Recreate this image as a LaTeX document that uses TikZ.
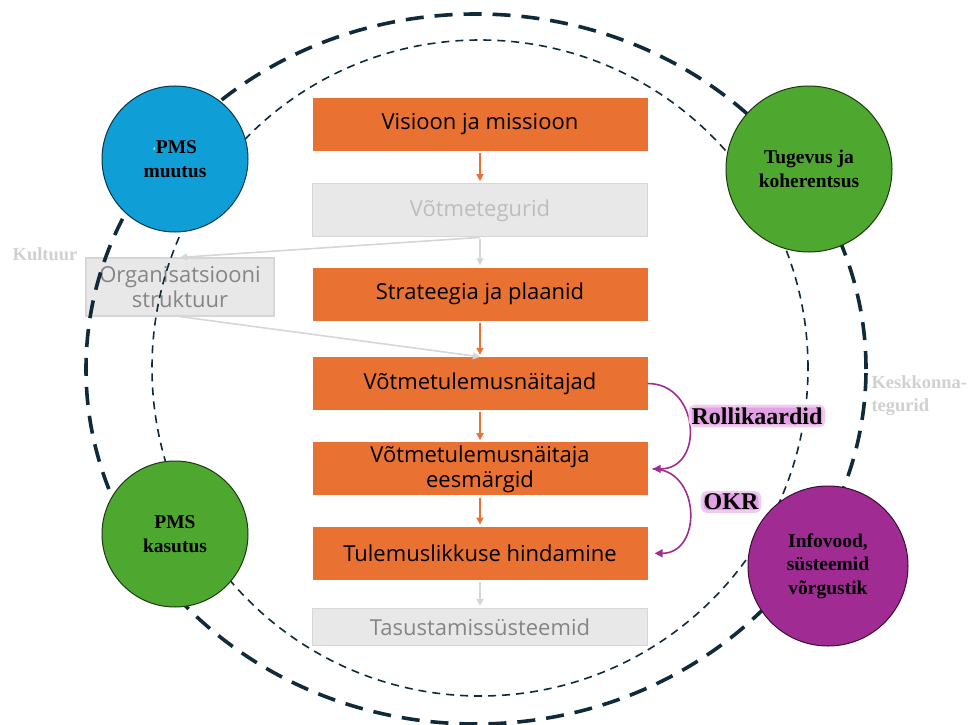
\documentclass[tikz,border=0pt]{standalone}
\usepackage{fontspec}
\setmainfont{Liberation Serif}
\newfontfamily\boxfont{Open Sans}
\usetikzlibrary{arrows.meta, positioning}

\definecolor{orangeB}{HTML}{E97132}
\definecolor{blueC}{HTML}{0F9ED5}
\definecolor{greenC}{HTML}{4EA72E}
\definecolor{purpleC}{HTML}{A02B93}
\definecolor{darkline}{HTML}{0E2A3B}
\definecolor{boxgray}{HTML}{E8E8E8}
\definecolor{boxline}{HTML}{D6D6D6}
\definecolor{textgray}{HTML}{858585}
\definecolor{textlight}{HTML}{BDBDBD}
\definecolor{labelgray}{HTML}{D0D0D0}
\definecolor{glowpink}{HTML}{E3A0E3}

\begin{document}
\begin{tikzpicture}[x=1pt, y=-1pt,
  box/.style={rectangle, fill=orangeB, minimum width=335pt, minimum height=53pt, inner sep=0pt, align=center, font=\boxfont\fontsize{22}{25}\selectfont},
  greybox/.style={box, fill=boxgray, draw=boxline, line width=1.2pt, text=textgray},
  ball/.style={circle, line width=1pt, inner sep=0pt, align=center, font=\bfseries\fontsize{19.5}{23.5}\selectfont},
  arrow/.style={-{Triangle[length=7pt,width=7pt]}, line width=1.6pt, orangeB, shorten <=2pt, shorten >=2pt},
  greyarrow/.style={arrow, boxline},
  okrarrow/.style={-{Triangle[length=8pt,width=8pt]}, line width=1.6pt, purpleC},
  glow/.style={fill=glowpink, draw=glowpink!55, line width=3pt, rounded corners=5pt, inner sep=1.5pt, font=\bfseries\fontsize{24}{28}\selectfont},
  sidelabel/.style={text=labelgray, align=left, font=\bfseries\fontsize{18.5}{23}\selectfont}
]
  \useasboundingbox (0,0) rectangle (972,725);

  % central chain
  \node[box] (visioon) at (480,124.5) {Visioon ja missioon};
  \node[greybox, text=textlight, below=32pt of visioon] (vtegurid) {Võtmetegurid};
  \node[box, below=30pt of vtegurid] (strateegia) {Strateegia ja plaanid};
  \node[box, below=36pt of strateegia] (kpi) {Võtmetulemusnäitajad};
  \node[box, below=32pt of kpi] (eesm) {Võtmetulemusnäitaja\\eesmärgid};
  \node[box, below=31pt of eesm] (tulemus) {Tulemuslikkuse hindamine};
  \node[greybox, minimum height=37pt, below=28pt of tulemus] (tasu) {Tasustamissüsteemid};

  \node[greybox, minimum width=188pt, minimum height=58pt] (org) at (180,287) {Organisatsiooni\\struktuur};

  % dashed rings
  \draw[darkline, line width=3.6pt, dash pattern=on 18pt off 11pt] (476,369) ellipse [x radius=390pt, y radius=355pt];
  \draw[darkline, line width=1.6pt, dash pattern=on 8pt off 6pt] (480,368) circle [radius=328pt];

  \draw[arrow] (visioon) -- (vtegurid);
  \draw[greyarrow] (vtegurid) -- (strateegia);
  \draw[arrow] (strateegia) -- (kpi);
  \draw[arrow] (kpi) -- (eesm);
  \draw[arrow] (eesm) -- (tulemus);
  \draw[greyarrow] (tulemus) -- (tasu);
  \draw[greyarrow, shorten <=0pt, shorten >=0pt] (vtegurid.south) -- (org.north);
  \draw[greyarrow, shorten <=0pt, shorten >=0pt] (org.south) -- (kpi.north);

  % side arcs
  \draw[okrarrow] (kpi.east) .. controls +(52,0) and +(52,0) .. ([xshift=5pt]eesm.east);
  \draw[okrarrow] ([xshift=5pt]eesm.east) .. controls +(48,0) and +(48,0) .. ([xshift=7pt]tulemus.east);
  \node[glow] (rolli) at (757,416) {Rollikaardid};
  \node[glow] (okr) at (731,502) {OKR};

  % outer circles
  \node[ball, fill=blueC, draw=blueC!35!black, minimum size=146pt] (muutus) at (175,159) {\textcolor{white}{\fontsize{9}{9}\selectfont`}PMS\\muutus};
  \node[ball, fill=greenC, draw=greenC!35!black, minimum size=166pt] (tugevus) at (809,169) {Tugevus ja\\koherentsus};
  \node[ball, fill=greenC, draw=greenC!35!black, minimum size=146pt] (kasutus) at (175,534) {PMS\\kasutus};
  \node[ball, fill=purpleC, draw=purpleC!35!black, minimum size=160pt] (infovood) at (828,566) {Infovood,\\süsteemid\\võrgustik};

  \node[sidelabel] (kultuur) at (45,254) {Kultuur};
  \node[sidelabel, anchor=west] (keskkond) at (868,396) {Keskkonna-\\tegurid};
\end{tikzpicture}
\end{document}
